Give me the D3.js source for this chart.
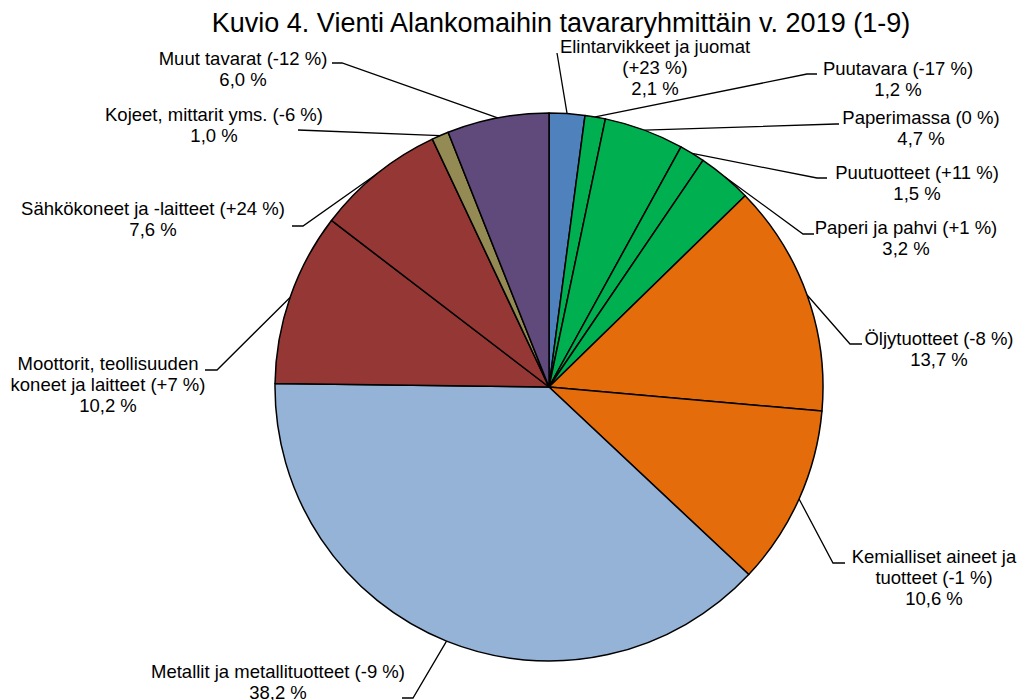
<!DOCTYPE html>
<html>
<head>
    <meta charset="utf-8">
    <title>Kuvio 4. Vienti Alankomaihin</title>
    <script src="https://d3js.org/d3.v7.min.js"></script>
    <style>
        body {
            margin: 0;
            background: #fff;
            font-family: "Liberation Sans", Arial, sans-serif;
        }
        .label {
            font-size: 18.5px;
            fill: #000;
        }
        .leader {
            fill: none;
            stroke: #000;
            stroke-width: 1.3;
        }
    </style>
</head>
<body>
    <div id="chart"></div>

    <script>
        // Data
        const categories = [
            ["Elintarvikkeet ja juomat", "(+23 %)"],
            ["Puutavara (-17 %)"],
            ["Paperimassa (0 %)"],
            ["Puutuotteet (+11 %)"],
            ["Paperi ja pahvi (+1 %)"],
            ["Öljytuotteet (-8 %)"],
            ["Kemialliset aineet ja", "tuotteet (-1 %)"],
            ["Metallit ja metallituotteet (-9 %)"],
            ["Moottorit, teollisuuden", "koneet ja laitteet (+7 %)"],
            ["Sähkökoneet ja -laitteet (+24 %)"],
            ["Kojeet, mittarit yms. (-6 %)"],
            ["Muut tavarat (-12 %)"]
        ];
        const shares = [2.1, 1.2, 4.7, 1.5, 3.2, 13.7, 10.6, 38.2, 10.2, 7.6, 1.0, 6.0];
        const colors = ["#4f81bd", "#00b050", "#00b050", "#00b050", "#00b050",
                        "#e46c0a", "#e46c0a", "#95b3d7", "#953735", "#953735",
                        "#948a54", "#604a7b"];

        // Label placement: text centre x, first baseline y, elbow point, end of horizontal tick
        const labelLayout = [
            {tx: 655, ty: 53,  ex: 557, ey: 53,  hx: 557},
            {tx: 898, ty: 75,  ex: 807, ey: 74,  hx: 817},
            {tx: 921, ty: 124, ex: 836, ey: 124, hx: 839},
            {tx: 917, ty: 179, ex: 817, ey: 178, hx: 827},
            {tx: 906, ty: 234, ex: 803, ey: 234, hx: 814},
            {tx: 939, ty: 345, ex: 850, ey: 344, hx: 862},
            {tx: 934, ty: 563, ex: 833, ey: 563, hx: 845},
            {tx: 278, ty: 678, ex: 413, ey: 698, hx: 402},
            {tx: 108, ty: 370, ex: 217, ey: 370, hx: 205},
            {tx: 153, ty: 215, ex: 303, ey: 226, hx: 292},
            {tx: 214, ty: 121, ex: 298, ey: 130, hx: 298},
            {tx: 243, ty: 65,  ex: 342, ey: 63,  hx: 332}
        ];

        const width = 1019, height = 700;
        const cx = 549, cy = 387, radius = 274;
        const lineHeight = 21;

        const svg = d3.select("#chart")
            .append("svg")
            .attr("width", width)
            .attr("height", height);

        svg.append("text")
            .attr("x", 561)
            .attr("y", 32)
            .attr("text-anchor", "middle")
            .style("font-size", "27px")
            .text("Kuvio 4. Vienti Alankomaihin tavararyhmittäin v. 2019 (1-9)");

        const data = shares.map((v, i) => ({name: categories[i], value: v, color: colors[i], i}));

        const pie = d3.pie()
            .value(d => d.value)
            .sort(null);

        const arc = d3.arc()
            .innerRadius(0)
            .outerRadius(radius);

        const arcs = pie(data);

        const g = svg.append("g")
            .attr("transform", `translate(${cx},${cy})`);

        g.selectAll("path.slice")
            .data(arcs)
            .join("path")
            .attr("class", "slice")
            .attr("d", arc)
            .attr("fill", d => d.data.color)
            .attr("stroke", "#000")
            .attr("stroke-width", 1.5)
            .attr("stroke-linejoin", "round");

        // Leader lines start at the middle of each slice's outer edge
        arcs.forEach(d => {
            const L = labelLayout[d.data.i];
            const mid = (d.startAngle + d.endAngle) / 2;
            const sx = cx + radius * Math.sin(mid);
            const sy = cy - radius * Math.cos(mid);
            svg.append("path")
                .attr("class", "leader")
                .attr("d", d3.line()([[sx, sy], [L.ex, L.ey], [L.hx, L.ey]]));

            const lines = d.data.name.concat([d3.format(".1f")(d.data.value).replace(".", ",") + " %"]);
            const t = svg.append("text")
                .attr("class", "label")
                .attr("text-anchor", "middle");
            lines.forEach((s, k) => {
                t.append("tspan")
                    .attr("x", L.tx)
                    .attr("y", L.ty + k * lineHeight)
                    .text(s);
            });
        });
    </script>
</body>
</html>
